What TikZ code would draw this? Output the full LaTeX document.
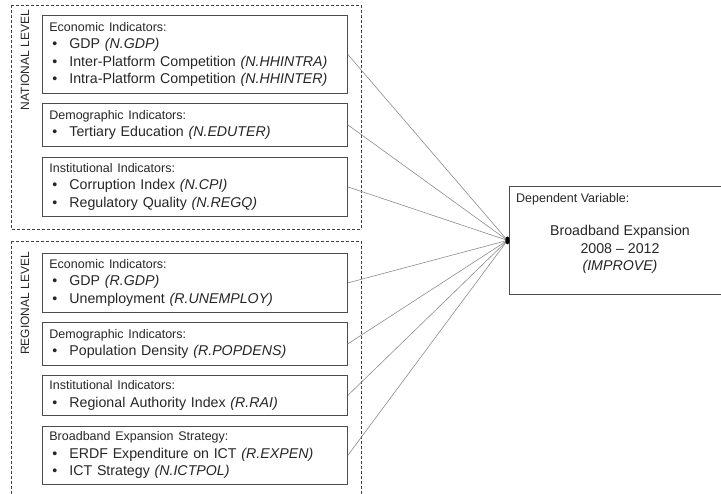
\documentclass[tikz,border=0pt]{standalone}
\usepackage{fontspec}
\setmainfont{Liberation Sans}
\usetikzlibrary{positioning}
\newcommand{\hdr}{\fontsize{12.5}{15}\selectfont}
\newcommand{\blt}{\hspace*{3pt}\makebox[17pt][l]{\textbullet}}

\begin{document}
\begin{tikzpicture}[x=1pt,y=-1pt,
		ind/.style={draw=black!70,line width=0.8pt,anchor=north west,inner xsep=7pt,inner ysep=4pt,text width=291pt,align=left,font=\fontsize{14.2}{17.5}\selectfont,text=black!85},
		level/.style={draw=black!75,line width=0.7pt,dash pattern=on 3pt off 2pt},
		lvl/.style={rotate=90,anchor=east,inner sep=0pt,font=\fontsize{12}{14}\selectfont,text=black!85},
		link/.style={draw=black!45,line width=0.6pt}]
		\useasboundingbox (0,0) rectangle (721,494);
		\clip (0,0) rectangle (721,494);
		
		\draw[level] (11,5) rectangle (361,229);
		\draw[level] (11,241) rectangle (361,510);
		\node[lvl] (nat) at (25,10) {NATIONAL LEVEL};
		\node[lvl] (reg) at (25,252) {REGIONAL LEVEL};
		
		\node[ind,minimum height=78pt] (n1) at (42,15) {{\hdr Economic Indicators:}\\
			\blt GDP \textit{(N.GDP)}\\
			\blt Inter-Platform Competition \textit{(N.HHINTRA)}\\
			\blt Intra-Platform Competition \textit{(N.HHINTER)}};
		\node[ind,minimum height=43pt] (n2) at (42,103) {{\hdr Demographic Indicators:}\\
			\blt Tertiary Education \textit{(N.EDUTER)}};
		\node[ind,minimum height=59pt] (n3) at (42,157) {{\hdr Institutional Indicators:}\\
			\blt Corruption Index \textit{(N.CPI)}\\
			\blt Regulatory Quality \textit{(N.REGQ)}};
		
		\node[ind,minimum height=59pt] (r1) at (42,253) {{\hdr Economic Indicators:}\\
			\blt GDP \textit{(R.GDP)}\\
			\blt Unemployment \textit{(R.UNEMPLOY)}};
		\node[ind,minimum height=43pt] (r2) at (42,322) {{\hdr Demographic Indicators:}\\
			\blt Population Density \textit{(R.POPDENS)}};
		\node[ind,minimum height=40pt] (r3) at (42,375) {{\hdr Institutional Indicators:}\\
			\blt Regional Authority Index \textit{(R.RAI)}};
		\node[ind,minimum height=58pt] (r4) at (42,426) {{\hdr Broadband Expansion Strategy:}\\
			\blt ERDF Expenditure on ICT \textit{(R.EXPEN)}\\
			\blt ICT Strategy \textit{(N.ICTPOL)}};
		
		\node[draw=black!70,line width=0.8pt,anchor=north west,minimum width=222pt,minimum height=108pt] (dep) at (509,186) {};
		\node[anchor=north west,inner sep=0pt,font=\hdr,text=black!85] (deptitle) at (516,193) {Dependent Variable:};
		\node[align=center,font=\fontsize{14.2}{17.5}\selectfont,text=black!85] (depvar) at (620,249.5) {Broadband Expansion\\2008 -- 2012\\\textit{(IMPROVE)}};
		
		\coordinate (hub) at ([xshift=-1.5pt]dep.west);
		\foreach \b in {n1,n2,n3,r1,r2,r3,r4}
			\draw[link] (\b.east) -- (hub);
		\fill[black] (hub) ellipse [x radius=2.2pt,y radius=4pt];
		
	\end{tikzpicture}
\end{document}
